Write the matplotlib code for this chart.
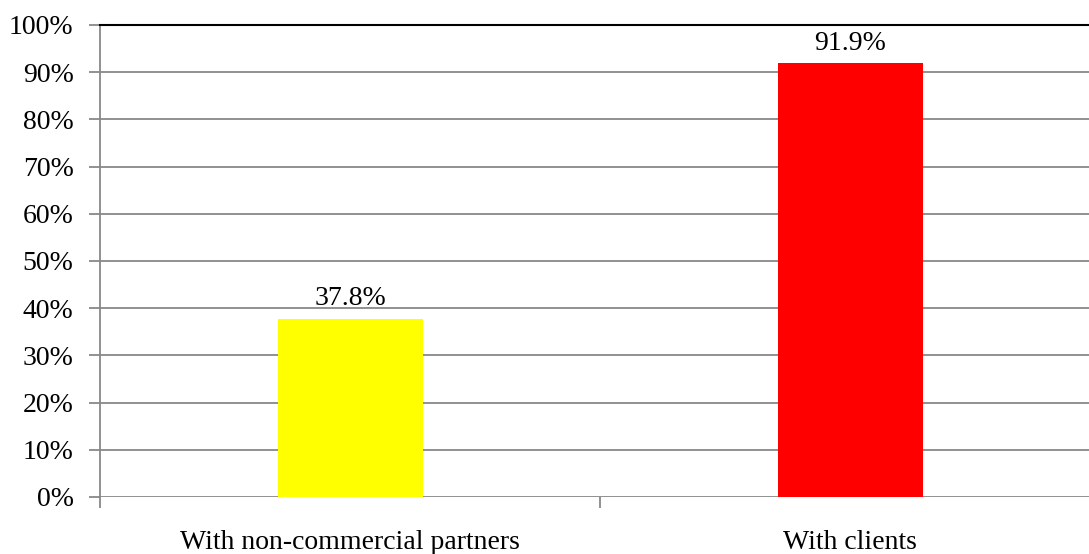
import matplotlib
matplotlib.use("Agg")
import matplotlib.pyplot as plt
from matplotlib.ticker import FuncFormatter, MultipleLocator

categories = ["With non-commercial partners", "With clients"]
values = [37.8, 91.9]
bar_colors = ["#FFFF00", "#FF0000"]

plt.rcParams["font.family"] = ["Liberation Serif", "DejaVu Serif"]

fig = plt.figure(figsize=(10.89, 5.54), dpi=100)
W, H = 1089, 554
left, right, top, bottom = 100, 1100, 25, 497
ax = fig.add_axes([left / W, 1 - bottom / H, (right - left) / W, (bottom - top) / H])

x = list(range(len(categories)))
ax.bar(x, values, width=0.29, color=bar_colors, zorder=3)
for xi, v in zip(x, values):
    ax.text(xi, v + 2.9, f"{v:.1f}%", ha="center", va="baseline", fontsize=20, zorder=4)

ax.set_xlim(-0.5, len(categories) - 0.5)
ax.set_ylim(0, 100)
ax.yaxis.set_major_locator(MultipleLocator(10))
ax.yaxis.set_major_formatter(FuncFormatter(lambda v, _: f"{v:.0f}%"))
ax.grid(axis="y", color="#888888", linewidth=1.3, zorder=0)
ax.set_axisbelow(True)

ax.set_xticks([-0.5, 0.5, 1.5])
ax.set_xticklabels([])
for xi, name in zip(x, categories):
    ax.text(xi, -11.1, name, ha="center", va="baseline", fontsize=20,
            transform=ax.transData, clip_on=False)

for s in ["right", "bottom"]:
    ax.spines[s].set_visible(False)
ax.spines["top"].set_color("#000000")
ax.spines["top"].set_linewidth(1.5)
ax.spines["left"].set_color("#888888")
ax.spines["left"].set_linewidth(1.3)
ax.tick_params(axis="y", length=8, width=1.3, color="#888888", labelsize=20, pad=11)
ax.tick_params(axis="x", length=8, width=1.3, color="#888888")

fig.savefig("out.png", dpi=100)
